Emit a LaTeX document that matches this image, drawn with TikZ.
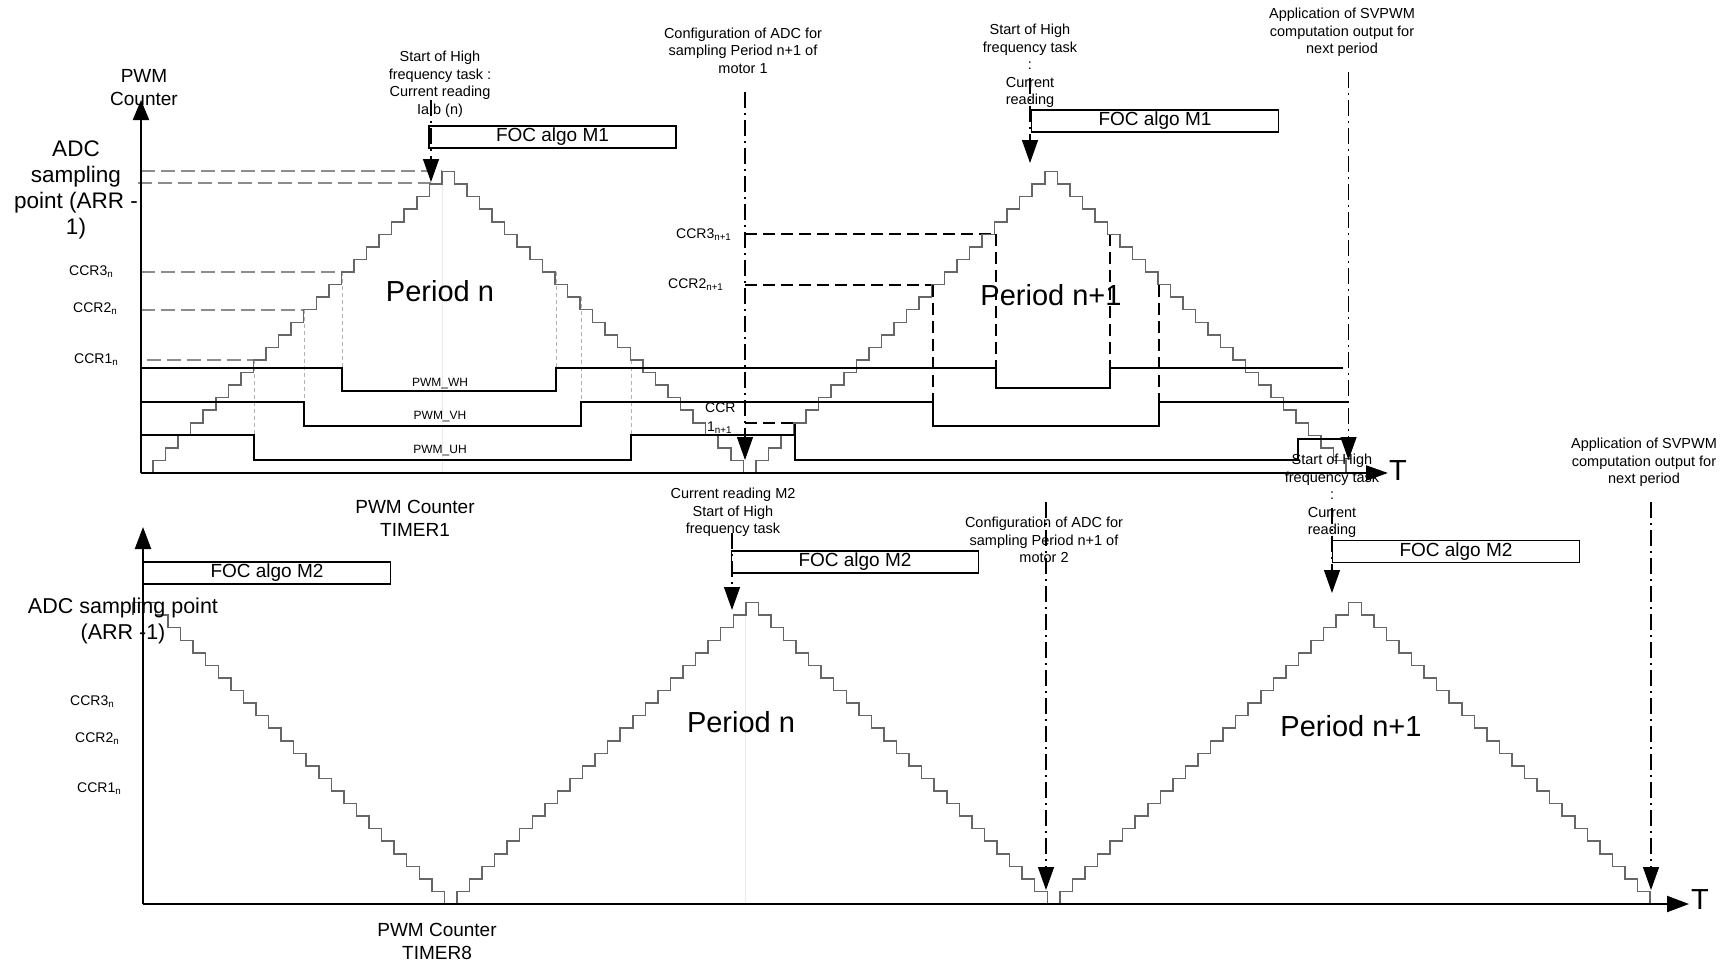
\documentclass[tikz,border=0pt]{standalone}
\usepackage{fontspec}
\setmainfont{Liberation Sans}
\usetikzlibrary{arrows.meta}
\begin{document}
\begin{tikzpicture}[x=1pt,y=-1pt,
  txt/.style={inner sep=0pt, align=center},
  small/.style={txt, font=\fontsize{14.5}{17.5}\selectfont},
  ccr/.style={inner sep=0pt, anchor=west, font=\fontsize{14}{16}\selectfont},
  pwml/.style={txt, font=\fontsize{12}{14}\selectfont},
  mid/.style={txt, font=\fontsize{19}{23}\selectfont},
  adc/.style={txt, font=\fontsize{22.5}{26}\selectfont},
  big/.style={txt, font=\fontsize{29}{32}\selectfont},
  focbox/.style={draw, line width=1.6pt, fill=white, inner sep=0pt, minimum width=247pt, minimum height=22pt, font=\fontsize{19}{22}\selectfont},
  axis/.style={line width=2.2pt, -{Triangle[length=20pt,width=16pt]}},
  stair/.style={line width=1.5pt, draw=black!60},
  pwm/.style={line width=1.6pt},
  gdash/.style={line width=1.5pt, draw=black!45, dash pattern=on 14pt off 6pt},
  ldash/.style={line width=0.8pt, draw=black!30, dash pattern=on 4pt off 3pt},
  bdash/.style={line width=1.6pt, dash pattern=on 12pt off 6pt},
  faint/.style={line width=0.6pt, draw=black!8},
  evt/.style={line width=1.3pt, dash pattern=on 16pt off 5pt on 2pt off 5pt, -{Triangle[length=23pt,width=16pt]}}
]
\useasboundingbox (0,0) rectangle (1735,961);

% ---------------- TOP CHART ----------------
\draw[faint] (442,171) -- (442,473);
% gray dashed CCR levels period n
\draw[gdash] (141,171) -- (442,171);
\draw[gdash] (138,183) -- (431,183);
\draw[gdash] (141,272) -- (356,272);
\draw[gdash] (141,310) -- (304,310);
\draw[gdash] (147,360) -- (254,360);
% light vertical dashed
\draw[ldash] (254,360) -- (254,460);
\draw[ldash] (304,310) -- (304,426);
\draw[ldash] (342,272) -- (342,391);
\draw[ldash] (556,272) -- (556,368);
\draw[ldash] (581,297) -- (581,402);
\draw[ldash] (631,360) -- (631,435);
% black dashed period n+1
\draw[bdash] (745,234) -- (996,234);
\draw[bdash] (745,285) -- (933,285);
\draw[bdash] (745,423) -- (795,423);
\draw[bdash] (933,285) -- (933,426);
\draw[bdash] (996,234) -- (996,368);
\draw[bdash] (1110,234) -- (1110,368);
\draw[bdash] (1159,285) -- (1159,402);
\draw[bdash] (795,423) -- (795,435);

% staircase counter
\draw[stair] (153,473)
  \foreach \i in {1,...,24}{ -- ++(0,-12.56) -- ++(12.56,0) }
  \foreach \i in {1,...,24}{ -- ++(0,12.56) -- ++(12.56,0) }
  \foreach \i in {1,...,24}{ -- ++(0,-12.56) -- ++(12.56,0) }
  \foreach \i in {1,...,24}{ -- ++(0,12.56) -- ++(12.56,0) };

% PWM waveforms
\draw[pwm] (141,368) -- (342,368) -- (342,391) -- (556,391) -- (556,368) -- (996,368) -- (996,388) -- (1110,388) -- (1110,368) -- (1343,368);
\draw[pwm] (140,402) -- (304,402) -- (304,426) -- (581,426) -- (581,402) -- (933,402) -- (933,426) -- (1159,426) -- (1159,402) -- (1348,402);
\draw[pwm] (141,435) -- (254,435) -- (254,460) -- (631,460) -- (631,435) -- (795,435) -- (795,460) -- (1298,460) -- (1298,439) -- (1355,439);
\node[pwml] (wh) at (440,384) {PWM\_WH};
\node[pwml] (vh) at (440,417) {PWM\_VH};
\node[pwml] (uh) at (440,451) {PWM\_UH};

% axes
\coordinate (o1) at (141,473);
\coordinate (y1) at (141,100);
\coordinate (x1) at (1388,473);
\draw[axis] (o1) -- (y1);
\draw[line width=2.2pt, -{Triangle[length=22pt,width=15pt]}] (o1) -- (x1);
\node[big] (T1) at (1398,471) {T};

\node[mid] (pc) at (144,88) {PWM\\Counter};
\node[adc] (adc1) at (76,190) {ADC\\sampling\\point (ARR -\\1)};
\node[ccr] (c3) at (69,272) {CCR3\textsubscript{n}};
\node[ccr] (c2) at (73,309) {CCR2\textsubscript{n}};
\node[ccr] (c1) at (74,360) {CCR1\textsubscript{n}};
\node[ccr] (d3) at (676,235) {CCR3\textsubscript{n+1}};
\node[ccr] (d2) at (668,285) {CCR2\textsubscript{n+1}};
\node[ccr] (d1a) at (705,408) {CCR};
\node[ccr] (d1b) at (707,428) {1\textsubscript{n+1}};

\node[big] (p1) at (440,291) {Period n};
\node[big] (p2) at (1051,295) {Period n+1};

% FOC boxes M1
\node[focbox] (f1) at (552.5,137) {FOC algo M1};
\node[focbox] (f2) at (1155,121) {FOC algo M1};

% events top
\node[small] (e1) at (440,84) {Start of High\\frequency task :\\Current reading\\Ia,b (n)};
\coordinate (e1s) at (431,100); \coordinate (e1e) at (431,182);
\draw[evt] (e1s) -- (e1e);

\node[small] (e2) at (743,50.5) {Configuration of ADC for\\sampling Period n+1 of\\motor 1};
\coordinate (e2s) at (745,92); \coordinate (e2e) at (745,460);
\draw[evt] (e2s) -- (e2e);

\node[small] (e3) at (1030,66) {Start of High\\frequency task\\:\\Current\\reading};
\coordinate (e3s) at (1030,78); \coordinate (e3e) at (1030,163);
\draw[evt] (e3s) -- (e3e);

\node[small] (e4) at (1342,32.5) {Application of SVPWM\\computation output for\\next period};
\coordinate (e4s) at (1348.5,72); \coordinate (e4e) at (1348.5,460);
\draw[evt] (e4s) -- (e4e);

% ---------------- BOTTOM CHART ----------------
\draw[faint] (745,602) -- (745,904);
\draw[stair] (133,615.1) -- (133,602.6) -- (155.5,602.6)
  \foreach \i in {1,...,24}{ -- ++(0,12.56) -- ++(12.56,0) }
  \foreach \i in {1,...,24}{ -- ++(0,-12.56) -- ++(12.56,0) }
  \foreach \i in {1,...,24}{ -- ++(0,12.56) -- ++(12.56,0) }
  \foreach \i in {1,...,24}{ -- ++(0,-12.56) -- ++(12.56,0) }
  \foreach \i in {1,...,24}{ -- ++(0,12.56) -- ++(12.56,0) };

\coordinate (o2) at (143,904);
\coordinate (y2) at (143,527);
\coordinate (x2) at (1689,904);
\draw[line width=2.2pt, -{Triangle[length=22pt,width=16pt]}] (o2) -- (y2);
\draw[line width=2.2pt, -{Triangle[length=22pt,width=16pt]}] (o2) -- (x2);
\node[big] (T2) at (1700,900) {T};

\node[mid] (t1lab) at (415,518) {PWM Counter\\TIMER1};
\node[mid] (t8lab) at (437,941) {PWM Counter\\TIMER8};
\node[txt, font=\fontsize{21.5}{26}\selectfont] (adc2) at (123,621) {ADC sampling point\\(ARR -1)};
\node[ccr] (b3) at (70,702) {CCR3\textsubscript{n}};
\node[ccr] (b2) at (75,739) {CCR2\textsubscript{n}};
\node[ccr] (b1) at (77,789) {CCR1\textsubscript{n}};

\node[big] (p3) at (741,722) {Period n};
\node[big] (p4) at (1351,726) {Period n+1};

\node[focbox] (g1) at (267,573) {FOC algo M2};
\node[focbox] (g2) at (855,562) {FOC algo M2};
\node[focbox] (g3) at (1456,551.5) {FOC algo M2};

\node[small] (e5) at (733,512.5) {Current reading M2\\Start of High\\frequency task};
\coordinate (e5s) at (732,533); \coordinate (e5e) at (732,610);
\draw[evt] (e5s) -- (e5e);

\node[small] (e6) at (1044,540) {Configuration of ADC for\\sampling Period n+1 of\\motor 2};
\coordinate (e6s) at (1046,502); \coordinate (e6e) at (1046,890);
\draw[evt] (e6s) -- (e6e);

\node[small] (e7) at (1332,496) {Start of High\\frequency task\\:\\Current\\reading};
\coordinate (e7s) at (1332,508); \coordinate (e7e) at (1332,593);
\draw[evt] (e7s) -- (e7e);

\node[small] (e8) at (1644,462.5) {Application of SVPWM\\computation output for\\next period};
\coordinate (e8s) at (1651,502); \coordinate (e8e) at (1651,890);
\draw[evt] (e8s) -- (e8e);

\end{tikzpicture}
\end{document}
